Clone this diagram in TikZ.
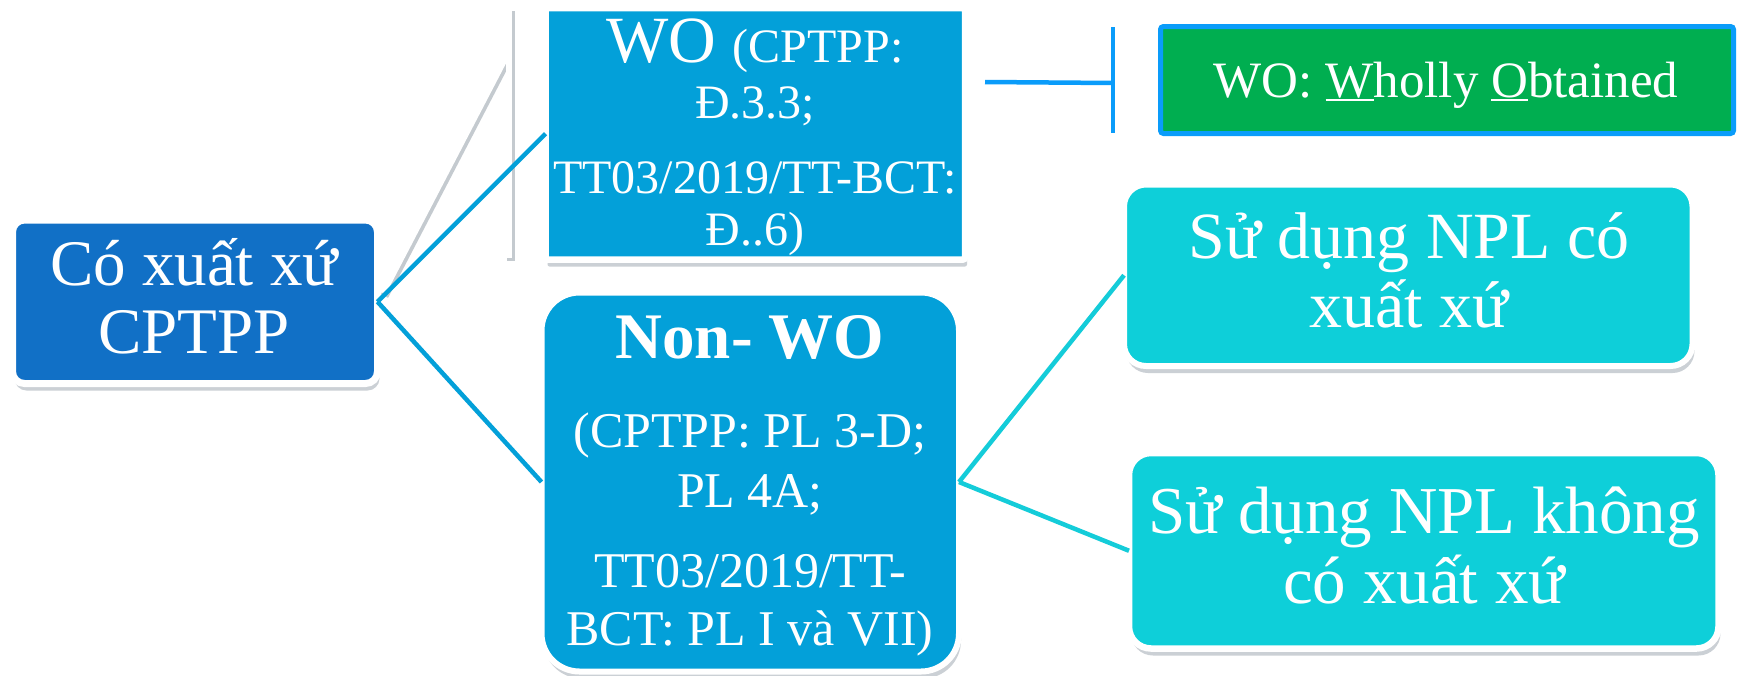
\documentclass[tikz,border=0pt]{standalone}
\usepackage{fontspec}
\setmainfont{Liberation Serif}
\usetikzlibrary{shadows}
\definecolor{rootblue}{HTML}{1170C6}
\definecolor{midblue}{HTML}{03A0D9}
\definecolor{cyanbox}{HTML}{0ECFD9}
\definecolor{cyanline}{HTML}{14CCD9}
\definecolor{greenbox}{HTML}{00AE50}
\definecolor{brightblue}{HTML}{0A9CFA}
\definecolor{shadowgray}{HTML}{7D8A96}
\newsavebox\ulbox
\newcommand\myul[1]{\sbox\ulbox{#1}\rlap{\rule[-4pt]{\wd\ulbox}{2.5pt}}\usebox\ulbox}
\newcommand\stk[2]{\vtop{\baselineskip=#1\lineskiplimit=-\maxdimen\lineskip=0pt\halign{\hfil##\hfil\cr#2\crcr}}}
\begin{document}
\begin{tikzpicture}[x=1pt,y=-1pt,
 boxshadow/.style={drop shadow={shadow xshift=2pt,shadow yshift=-7pt,opacity=0.4,fill=shadowgray}},
 box/.style={draw=white,inner sep=0pt,outer sep=0pt},
 txt/.style={text=white,inner sep=0pt,anchor=base},
 conn/.style={line width=4.5pt},
 whiteline/.style={draw=white,line width=6pt},
 lineshadow/.style={draw=shadowgray,opacity=0.45,line width=8pt}]
\fill[white] (0,0) rectangle (1737,675);
\useasboundingbox (0,0) rectangle (1737,675);

% free coordinates
\coordinate (wtop) at (509,8);
\coordinate (wbot) at (509,258);
\coordinate (wdiagA) at (383,293);
\coordinate (wdiagB) at (507,55);
\coordinate (wotick) at (985,82);
\coordinate (tickmid) at (1113,83);
\coordinate (ticktop) at (1113,27);
\coordinate (tickbot) at (1113,133);

% white lines with shadows
\draw[lineshadow] ([shift={(1.5,3)}]wtop) -- ([shift={(1.5,3)}]wbot);
\draw[lineshadow] ([shift={(1.5,3)}]wdiagA) -- ([shift={(1.5,3)}]wdiagB);
\draw[whiteline] (wtop) -- (wbot);
\draw[whiteline] (wdiagA) -- (wdiagB);

% boxes
\node[box, boxshadow, fill=rootblue, line width=7pt, rounded corners=12pt,
      minimum width=365pt, minimum height=163.5pt] (root) at (195,301.75) {};
\node[box, boxshadow, fill=midblue, line width=6.5pt, rounded corners=2pt,
      minimum width=419.5pt, minimum height=251.5pt] (wo) at (755.25,133.75) {};
\node[box, boxshadow, fill=midblue, line width=6pt, rounded corners=38pt,
      minimum width=417.5pt, minimum height=379pt] (nonwo) at (750.25,482) {};
\node[box, boxshadow, fill=cyanbox, line width=6pt, rounded corners=22pt,
      minimum width=568.5pt, minimum height=181.5pt] (s1) at (1408.25,275.25) {};
\node[box, boxshadow, fill=cyanbox, line width=6.5pt, rounded corners=22pt,
      minimum width=589.5pt, minimum height=195.5pt] (s2) at (1423.75,550.75) {};
\node[box, draw=brightblue, fill=greenbox, line width=5pt, rounded corners=3pt,
      minimum width=573pt, minimum height=107pt] (green) at (1447,80) {};

% connectors
\draw[conn, midblue] (root.east) -- (wo.west);
\draw[conn, midblue] (root.east) -- (nonwo.west);
\draw[conn, cyanline] (nonwo.east) -- (s1.west);
\draw[conn, cyanline] (nonwo.east) -- (s2.west);
\draw[conn, brightblue] (wotick) -- (tickmid);
\draw[conn, brightblue] (ticktop) -- (tickbot);

% texts
\node[txt, font=\fontsize{65}{68}\selectfont] (roottxt) at (194,285)
  {\stk{68pt}{Có xuất xứ\cr CPTPP}};
\node[txt, font=\fontsize{48}{56}\selectfont] (wotxt) at (755,62)
  {\stk{56pt}{{\fontsize{66}{56}\selectfont WO}\hspace{16pt}(CPTPP:\cr Đ.3.3;\cr\noalign{\vskip19pt}TT03/2019/TT-BCT:\cr\noalign{\vskip-4pt}Đ..6)}};
\node[txt, font=\fontsize{50}{58}\selectfont] (nonwotxt) at (750,358)
  {\stk{58pt}{{\bfseries\fontsize{65}{58}\selectfont Non- WO}\cr\noalign{\vskip31pt}(CPTPP: PL 3-D;\cr\noalign{\vskip2pt}PL 4A;\cr\noalign{\vskip22pt}TT03/2019/TT-\cr BCT: PL I và VII)}};
\node[txt, font=\fontsize{51}{51}\selectfont] (greentxt) at (1446,97)
  {WO: \myul{W}holly \myul{O}btained};
\node[txt, font=\fontsize{66}{69}\selectfont] (s1txt) at (1409,258)
  {\stk{69pt}{Sử dụng NPL có\cr xuất xứ}};
\node[txt, font=\fontsize{67}{70}\selectfont] (s2txt) at (1424,533)
  {\stk{70pt}{Sử dụng NPL không\cr có xuất xứ}};
\end{tikzpicture}
\end{document}
